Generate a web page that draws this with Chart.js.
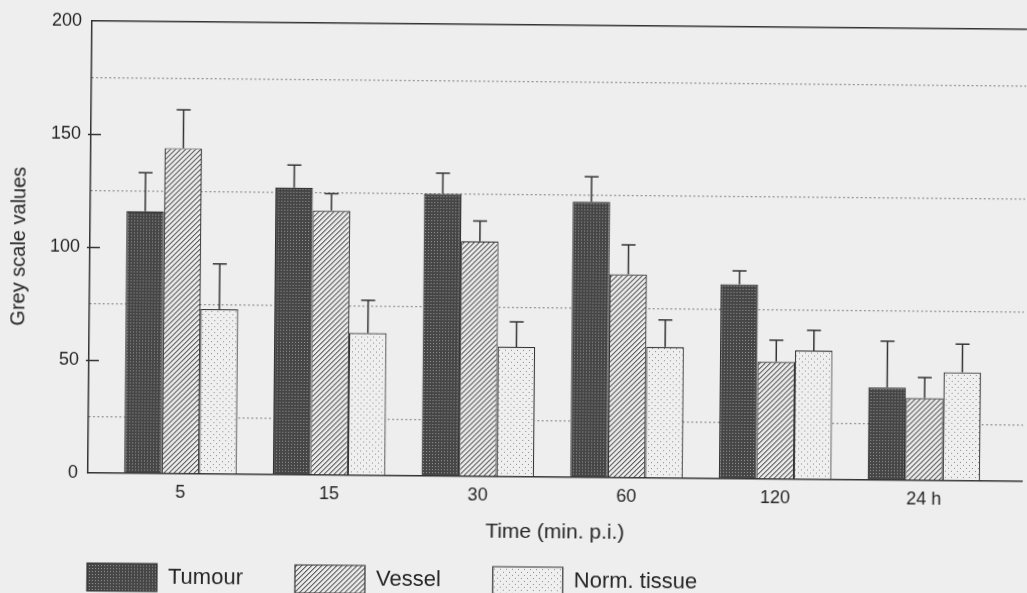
<!DOCTYPE html>
<html>
<head>
<meta charset="utf-8">
<script src="https://cdn.jsdelivr.net/npm/chart.js@4.4.1/dist/chart.umd.min.js"></script>
<style>
html,body{margin:0;padding:0;background:#eeeeee;overflow:hidden;width:1027px;height:593px;}
#c{display:block;transform:rotate(0.52deg);transform-origin:92px 20px;}
</style>
</head>
<body>
<canvas id="c" width="1027" height="593"></canvas>
<script>
// ---- data ----
const categories = ['5', '15', '30', '60', '120', '24 h'];
const tumour      = [116, 127, 125, 122, 86, 41];
const tumourErr   = [17, 10, 9, 11, 6, 20.5];
const vessel      = [144, 117, 104, 90, 52, 36.5];
const vesselErr   = [17, 7.5, 9, 13, 9.5, 9];
const normTissue  = [73, 63, 57.5, 58, 57, 48];
const normTissueErr = [20, 14.5, 11, 12, 9, 12.5];
const yTickLabels = [0, 50, 100, 150, 200];
const dottedLevels = [25, 75, 125, 175];

const fam = '"Liberation Sans", Arial, Helvetica, sans-serif';
const ink = '#333333';
const textInk = '#262626';
Chart.defaults.font.family = fam;
Chart.defaults.color = textInk;

const canvas = document.getElementById('c');
const mainCtx = canvas.getContext('2d');

function tile(size, draw) {
  const c = document.createElement('canvas');
  c.width = size; c.height = size;
  const g = c.getContext('2d');
  draw(g, size);
  return mainCtx.createPattern(c, 'repeat');
}
const tumourFill = tile(3, (g) => {
  g.fillStyle = '#464646'; g.fillRect(0, 0, 3, 3);
  g.fillStyle = '#969696'; g.fillRect(1, 1, 1, 1);
});
const vesselFill = tile(5, (g, n) => {
  g.fillStyle = '#ebebeb'; g.fillRect(0, 0, n, n);
  for (let i = 0; i < n; i++) {
    g.fillStyle = '#5a5a5a'; g.fillRect(i, n - 1 - i, 1, 1);
    g.fillStyle = '#a6a6a6'; g.fillRect(i, (n - i) % n, 1, 1);
  }
});
const normFill = tile(6, (g) => {
  g.fillStyle = '#efefef'; g.fillRect(0, 0, 6, 6);
  g.fillStyle = '#8a8a8a';
  g.fillRect(1, 1, 1, 1); g.fillRect(4, 4, 1, 1);
});

const series = [
  { label: 'Tumour', values: tumour, err: tumourErr, fill: tumourFill },
  { label: 'Vessel', values: vessel, err: vesselErr, fill: vesselFill },
  { label: 'Norm. tissue', values: normTissue, err: normTissueErr, fill: normFill }
];

const errorBars = {
  id: 'errorBars',
  afterDatasetsDraw(chart) {
    const ctx = chart.ctx;
    const ys = chart.scales.y;
    chart.data.datasets.forEach((ds, di) => {
      const meta = chart.getDatasetMeta(di);
      meta.data.forEach((bar, i) => {
        const v = ds.data[i].y, e = ds.err[i];
        const top = ys.getPixelForValue(v + e);
        ctx.save();
        ctx.strokeStyle = ink;
        ctx.lineWidth = 1.5;
        ctx.beginPath();
        ctx.moveTo(bar.x, bar.y);
        ctx.lineTo(bar.x, top);
        ctx.moveTo(bar.x - 7, top);
        ctx.lineTo(bar.x + 7, top);
        ctx.stroke();
        ctx.restore();
      });
    });
  }
};

// inward tick marks on the y axis at the labelled values
const inwardTicks = {
  id: 'inwardTicks',
  afterDraw(chart) {
    const ctx = chart.ctx;
    const ys = chart.scales.y;
    const left = chart.chartArea.left;
    ctx.save();
    ctx.strokeStyle = ink;
    ctx.lineWidth = 1.5;
    yTickLabels.forEach(v => {
      if (v <= 0 || v >= 200) return;
      const py = Math.round(ys.getPixelForValue(v)) + 0.5;
      ctx.beginPath();
      ctx.moveTo(left - 3, py);
      ctx.lineTo(left + 10, py);
      ctx.stroke();
    });
    ctx.restore();
  }
};

const legendPlace = {
  id: 'legendPlace',
  beforeInit(chart) {
    const orig = chart.legend.fit;
    chart.legend.fit = function () { orig.call(this); this.height = 45; };
  },
  afterLayout(chart) {
    const lg = chart.legend;
    lg.left = 92 - 52;
    lg.top = 563 - 52;
  }
};

new Chart(mainCtx, {
  type: 'bar',
  data: {
    datasets: series.map(s => ({
      label: s.label,
      data: s.values.map((v, i) => ({ x: i, y: v })),
      err: s.err,
      backgroundColor: s.fill,
      borderColor: ink,
      borderWidth: 1.2,
      categoryPercentage: 0.757,
      barPercentage: 1,
      xAxisID: 'x',
      yAxisID: 'y'
    }))
  },
  options: {
    responsive: false,
    animation: false,
    devicePixelRatio: 1,
    layout: { padding: { top: 10, left: 0, right: 0, bottom: 0 } },
    scales: {
      x: {
        type: 'linear',
        position: 'bottom',
        offset: false,
        min: -0.622,
        max: 5.666,
        afterBuildTicks: sc => { sc.ticks = categories.map((c, i) => ({ value: i })); },
        afterFit: sc => { sc.height = 75; },
        grid: { display: false, drawTicks: false, offset: false },
        border: { display: true, color: ink, width: 1.5 },
        ticks: {
          callback: v => categories[v] !== undefined ? categories[v] : '',
          font: { size: 18 }, color: textInk, padding: 8, autoSkip: false, maxRotation: 0
        },
        title: { display: true, text: 'Time (min. p.i.)', font: { size: 21 }, color: textInk, padding: { top: 0, bottom: 7 } }
      },
      xTop: {
        type: 'linear',
        position: 'top',
        offset: false,
        min: 0, max: 1,
        afterFit: sc => { sc.height = 0; },
        grid: { display: false, drawTicks: false },
        ticks: { display: false },
        border: { display: true, color: ink, width: 1.5 }
      },
      y: {
        type: 'linear',
        min: 0, max: 200,
        afterBuildTicks: sc => {
          sc.ticks = yTickLabels.concat(dottedLevels).sort((a, b) => a - b).map(v => ({ value: v }));
        },
        afterFit: sc => { sc.width = 92; },
        grid: {
          drawTicks: false,
          lineWidth: 1.3,
          color: c => dottedLevels.includes(c.tick.value) ? '#666666' : 'rgba(0,0,0,0)'
        },
        border: { display: true, color: ink, width: 1.5, dash: [1.3, 3.1] },
        ticks: {
          autoSkip: false,
          font: { size: 18 }, color: textInk, padding: 10,
          callback: v => yTickLabels.includes(v) ? String(v) : ''
        },
        title: { display: true, text: 'Grey scale values', font: { size: 20 }, color: textInk, padding: { top: 9, bottom: 0 } }
      }
    },
    plugins: {
      tooltip: { enabled: false },
      legend: {
        position: 'bottom',
        align: 'start',
        labels: { boxWidth: 70, boxHeight: 28, padding: 52, font: { size: 22 }, color: textInk }
      }
    }
  },
  plugins: [errorBars, inwardTicks, legendPlace]
});
</script>
</body>
</html>
